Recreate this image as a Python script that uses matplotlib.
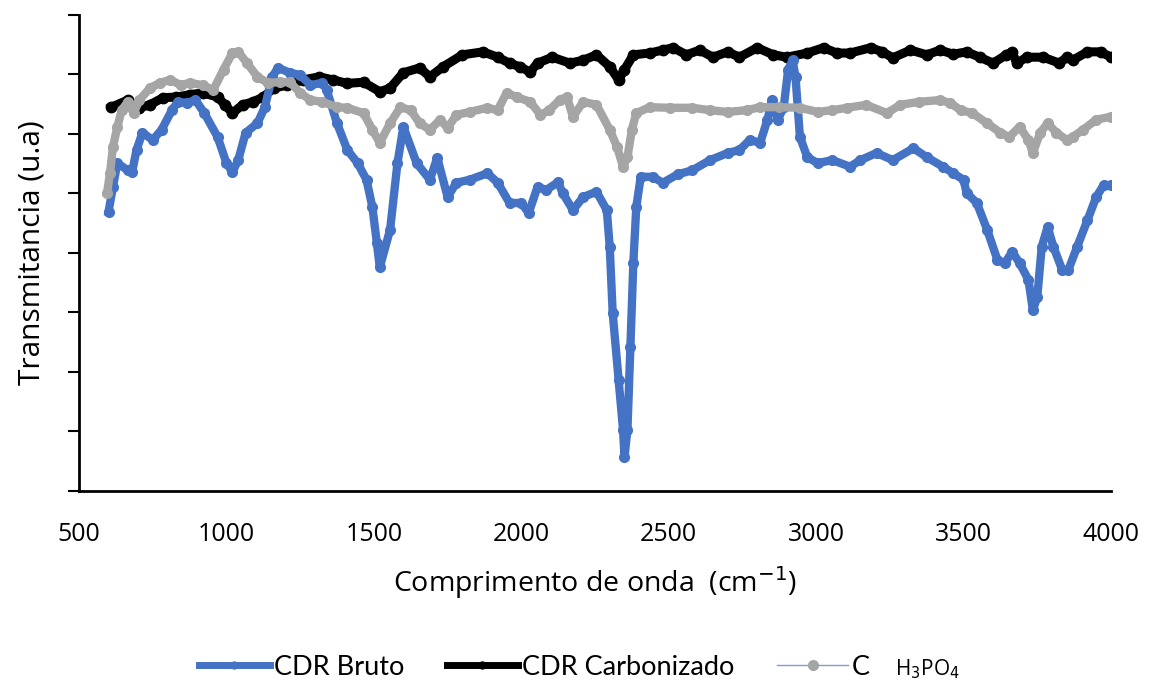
import matplotlib
matplotlib.use("Agg")
import matplotlib.pyplot as plt
from matplotlib.lines import Line2D

# wavenumber (cm-1) / transmittance (arbitrary units)
bruto_x = [600, 615, 630, 665, 680, 695, 715, 750, 780, 815, 835, 865, 895, 925,
           970, 1000, 1020, 1040, 1065, 1105, 1130, 1155, 1175, 1215, 1250, 1285,
           1325, 1340, 1375, 1410, 1445, 1475, 1495, 1510, 1520, 1555, 1580, 1600,
           1645, 1690, 1715, 1750, 1780, 1825, 1885, 1920, 1960, 2000, 2025, 2055,
           2085, 2125, 2140, 2175, 2210, 2255, 2290, 2300, 2310, 2330, 2345, 2350,
           2360, 2370, 2380, 2390, 2405, 2445, 2480, 2530, 2580, 2640, 2700, 2740,
           2775, 2810, 2835, 2850, 2870, 2890, 2905, 2920, 2930, 2945, 2970, 3005,
           3055, 3115, 3150, 3205, 3260, 3330, 3375, 3430, 3465, 3500, 3510, 3545,
           3580, 3615, 3640, 3665, 3690, 3720, 3735, 3750, 3765, 3785, 3805, 3835,
           3855, 3885, 3920, 3950, 3975, 4000]
bruto_y = [46.9, 51.1, 55.1, 53.9, 53.6, 57.3, 60.2, 59.0, 60.7, 64.0, 65.4, 65.2,
           65.7, 63.5, 59.5, 55.1, 53.6, 55.6, 60.2, 61.8, 64.5, 69.6, 71.1, 70.3,
           69.9, 68.2, 68.6, 67.4, 61.8, 57.3, 55.1, 52.3, 47.7, 41.7, 37.6, 43.9,
           55.1, 61.2, 55.1, 52.3, 56.0, 49.4, 51.8, 52.3, 53.4, 51.8, 48.4, 48.4,
           46.7, 51.1, 50.6, 51.9, 50.1, 47.2, 49.4, 50.3, 47.2, 41.0, 29.9, 18.7,
           10.3, 5.7, 10.3, 24.2, 38.3, 47.7, 52.8, 52.8, 51.8, 53.2, 53.9, 55.6,
           56.8, 57.3, 59.0, 58.5, 62.4, 65.7, 62.4, 64.5, 70.8, 72.4, 69.6, 59.5,
           56.1, 55.1, 55.6, 54.5, 55.6, 56.8, 55.6, 57.6, 56.1, 54.5, 53.4, 52.3,
           50.1, 48.4, 43.9, 38.8, 38.3, 40.2, 38.3, 35.5, 30.4, 32.6, 41.0, 44.4,
           41.0, 37.1, 37.1, 41.0, 45.5, 49.4, 51.4, 51.4]

carb_x = [610, 665, 705, 740, 785, 830, 875, 920, 970, 995, 1020, 1055, 1090, 1125,
          1160, 1205, 1260, 1315, 1360, 1410, 1465, 1520, 1555, 1600, 1655, 1690,
          1735, 1800, 1870, 1920, 1960, 1995, 2030, 2055, 2105, 2165, 2210, 2255,
          2300, 2330, 2350, 2380, 2435, 2480, 2515, 2560, 2605, 2650, 2700, 2740,
          2800, 2855, 2900, 2970, 3025, 3070, 3115, 3185, 3225, 3260, 3320, 3375,
          3420, 3465, 3510, 3555, 3600, 3645, 3665, 3680, 3715, 3770, 3825, 3850,
          3870, 3920, 3965, 4000]
carb_y = [64.5, 65.7, 64.4, 64.9, 66.1, 66.2, 66.6, 66.9, 66.2, 64.9, 63.5, 64.9,
          65.4, 66.2, 67.7, 68.2, 69.1, 69.6, 69.1, 68.5, 68.7, 67.1, 67.7, 70.3,
          71.1, 69.6, 71.3, 73.3, 73.8, 72.9, 71.9, 71.3, 70.4, 71.9, 72.9, 71.9,
          72.4, 73.3, 71.3, 69.1, 70.8, 73.3, 73.6, 74.1, 74.5, 73.3, 74.1, 72.9,
          73.8, 72.9, 74.5, 73.3, 72.9, 73.6, 74.5, 73.6, 73.6, 74.5, 73.8, 72.8,
          74.1, 73.3, 74.1, 73.4, 73.8, 72.9, 71.9, 73.3, 73.8, 71.9, 72.9, 72.9,
          71.9, 72.9, 72.4, 73.8, 73.8, 72.9]

h3po4_x = [595, 605, 615, 630, 645, 665, 685, 705, 740, 775, 810, 845, 875, 920,
           955, 990, 1020, 1040, 1070, 1105, 1140, 1180, 1215, 1250, 1285, 1325,
           1375, 1410, 1465, 1495, 1520, 1555, 1590, 1625, 1655, 1690, 1725, 1750,
           1780, 1825, 1885, 1920, 1950, 1985, 2030, 2065, 2095, 2130, 2155, 2175,
           2210, 2255, 2300, 2325, 2345, 2360, 2375, 2390, 2435, 2505, 2580, 2640,
           2700, 2765, 2810, 2875, 2945, 3005, 3055, 3105, 3170, 3240, 3285, 3350,
           3420, 3455, 3490, 3530, 3580, 3625, 3655, 3690, 3720, 3735, 3760, 3785,
           3815, 3850, 3870, 3905, 3950, 4000]
h3po4_y = [50.1, 53.4, 57.8, 61.2, 64.0, 65.4, 63.5, 65.7, 67.7, 68.6, 69.1, 68.2,
           68.6, 68.2, 67.4, 70.8, 73.6, 73.8, 71.9, 69.6, 68.6, 68.7, 68.7, 66.9,
           65.7, 65.4, 64.5, 64.4, 63.5, 60.7, 58.5, 61.8, 64.5, 64.0, 61.8, 60.7,
           62.4, 61.0, 63.2, 63.7, 64.4, 64.0, 66.9, 66.2, 65.4, 63.2, 64.0, 65.7,
           66.2, 62.9, 65.4, 64.9, 60.7, 57.8, 54.5, 56.1, 60.7, 63.5, 64.5, 64.4,
           64.4, 64.0, 63.7, 64.0, 64.5, 64.5, 64.4, 63.7, 64.0, 64.4, 64.9, 63.5,
           64.9, 65.4, 65.7, 65.2, 64.0, 63.5, 61.8, 60.2, 59.5, 61.2, 59.0, 56.8,
           60.2, 61.8, 60.2, 59.0, 59.5, 60.7, 62.4, 62.9]

x_ticks = [500, 1000, 1500, 2000, 2500, 3000, 3500, 4000]

BLUE = "#4472C4"
GRAY = "#A5A5A5"

fig = plt.figure(figsize=(11.52, 6.86), dpi=100)
ax = fig.add_axes([0.0686, 0.2843, 0.8958, 0.6939])

ax.plot(carb_x, carb_y, "-o", color="black", lw=6.5, ms=7.5, zorder=2)
ax.plot(bruto_x, bruto_y, "-o", color=BLUE, lw=6, ms=7, zorder=3)
ax.plot(h3po4_x, h3po4_y, "-o", color=GRAY, lw=6, ms=7, zorder=4)

ax.set_xlim(500, 4000)
ax.set_ylim(0, 80)
ax.set_xticks(x_ticks)
ax.set_xticklabels([str(v) for v in x_ticks], fontsize=18, family="Open Sans")
ax.set_yticks(range(0, 81, 10))
ax.set_yticklabels([])
ax.tick_params(axis="x", length=0, pad=22)
ax.tick_params(axis="y", length=8, width=1.5, direction="out")
for s in ("top", "right"):
    ax.spines[s].set_visible(False)
for s in ("left", "bottom"):
    ax.spines[s].set_linewidth(2)

ax.set_xlabel("Comprimento de onda  (cm$^{-1}$)", fontsize=20.5, family="Open Sans", labelpad=13)
ax.set_ylabel("Transmitancia (u.a)", fontsize=21.5, family="Open Sans", labelpad=12)

handles = [
    Line2D([0, 0.5, 1], [0, 0, 0], color=BLUE, lw=5, marker="o", ms=5, markevery=[1],
           label="CDR Bruto"),
    Line2D([0, 0.5, 1], [0, 0, 0], color="black", lw=5, marker="o", ms=5, markevery=[1],
           label="CDR Carbonizado"),
    Line2D([0, 0.5, 1], [0, 0, 0], color="#7F9BD8", lw=1, marker="o", ms=7, mfc=GRAY,
           mec=GRAY, markevery=[1], label="C"),
]
fig.legend(handles=handles, loc="center", bbox_to_anchor=(0.464, 0.027),
           ncol=3, frameon=False, handlelength=2.6, handletextpad=0.15,
           columnspacing=1.6, prop={"family": "Lato", "size": 19.5})
fig.text(0.777, 0.024, "H$_3$PO$_4$", fontsize=15, family="Open Sans", va="center")

fig.savefig("out.png", dpi=100)
